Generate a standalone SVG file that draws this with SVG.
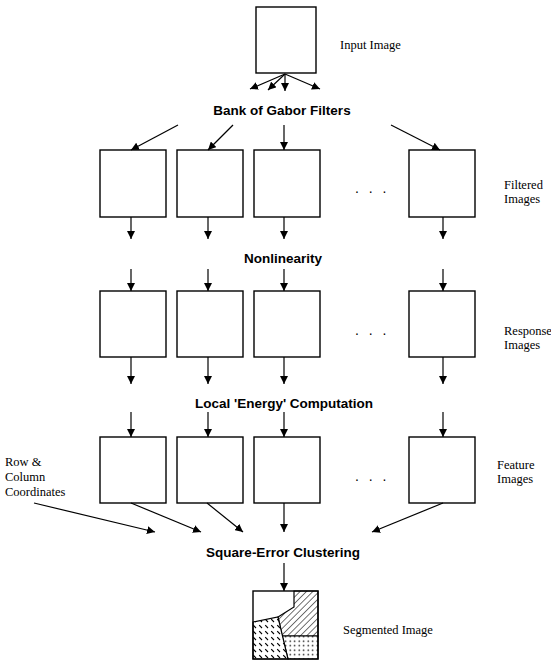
<svg xmlns="http://www.w3.org/2000/svg" width="551" height="665" viewBox="0 0 551 665">
<style>
.box{fill:#fff;stroke:#000;stroke-width:1.4}
.ar{fill:none;stroke:#000;stroke-width:1.2;marker-end:url(#ah)}
.b{font-family:"Liberation Sans",Arial,sans-serif;font-weight:bold;font-size:13.5px;fill:#000;text-anchor:middle}
.s{font-family:"Liberation Serif","Times New Roman",serif;font-size:12.5px;fill:#000}
.dots{font-family:"Liberation Sans",Arial,sans-serif;font-size:14px;fill:#000;letter-spacing:3px}
.reg{stroke:#000;stroke-width:1.2}
</style>
<defs>
<marker id="ah" viewBox="0 0 10 10" refX="10" refY="5" markerWidth="8" markerHeight="8" markerUnits="userSpaceOnUse" orient="auto">
<path d="M0,0 L10,5 L0,10 z" fill="#000"/>
</marker>
<pattern id="hatch" width="4.5" height="4.5" patternUnits="userSpaceOnUse" patternTransform="rotate(45)">
<rect width="4.5" height="4.5" fill="#fff"/>
<line x1="0" y1="0" x2="0" y2="4.5" stroke="#000" stroke-width="1.1"/>
</pattern>
<pattern id="dot" width="4.5" height="4.5" patternUnits="userSpaceOnUse">
<rect width="4.5" height="4.5" fill="#fff"/>
<circle cx="2.2" cy="2.2" r="0.75" fill="#000"/>
</pattern>
<pattern id="dash" width="6" height="6" patternUnits="userSpaceOnUse">
<rect width="6" height="6" fill="#fff"/>
<line x1="1.2" y1="1.2" x2="4" y2="4" stroke="#000" stroke-width="1.1"/>
</pattern>
</defs>

<g id="input-image">
<rect class="box" x="256" y="7" width="60" height="66"/>
<text class="s" x="340" y="49">Input Image</text>
</g>

<g id="gabor-label"><text class="b" x="282" y="115">Bank of Gabor Filters</text></g>

<g id="filtered-images">
<rect class="box" x="100" y="150" width="66" height="67"/>
<rect class="box" x="177" y="150" width="66" height="67"/>
<rect class="box" x="254" y="150" width="66" height="67"/>
<rect class="box" x="409" y="150" width="66" height="67"/>
<text class="dots" x="355" y="193">. . .</text>
<text class="s" x="504" y="189">Filtered</text>
<text class="s" x="504" y="203">Images</text>
</g>

<g id="nonlinearity-label"><text class="b" x="283" y="263">Nonlinearity</text></g>

<g id="response-images">
<rect class="box" x="100" y="291" width="66" height="66"/>
<rect class="box" x="177" y="291" width="66" height="66"/>
<rect class="box" x="254" y="291" width="66" height="66"/>
<rect class="box" x="409" y="291" width="66" height="66"/>
<text class="dots" x="355" y="335">. . .</text>
<text class="s" x="504" y="335">Response</text>
<text class="s" x="504" y="349">Images</text>
</g>

<g id="energy-label"><text class="b" x="284" y="408">Local  'Energy' Computation</text></g>

<g id="feature-images">
<rect class="box" x="100" y="437" width="66" height="66"/>
<rect class="box" x="177" y="437" width="66" height="66"/>
<rect class="box" x="254" y="437" width="66" height="66"/>
<rect class="box" x="409" y="437" width="66" height="66"/>
<text class="dots" x="355" y="481">. . .</text>
<text class="s" x="497" y="469">Feature</text>
<text class="s" x="497" y="483">Images</text>
</g>

<g id="row-column">
<text class="s" x="5" y="466">Row &amp;</text>
<text class="s" x="5" y="481">Column</text>
<text class="s" x="5" y="496">Coordinates</text>
</g>

<g id="clustering-label"><text class="b" x="283" y="557">Square-Error Clustering</text></g>

<g id="segmented-image">
<polygon points="253,591 294,591 294,607 278,617 253,622" fill="#fff"/>
<polygon class="reg" points="294,591 318,591 318,636 282,636 278,617 294,607" fill="url(#hatch)"/>
<polygon class="reg" points="282,636 318,636 318,659 288,659" fill="url(#dot)"/>
<polygon class="reg" points="253,622 278,617 288,659 253,659" fill="url(#dash)"/>
<rect x="253" y="591" width="65" height="68" fill="none" stroke="#000" stroke-width="1.4"/>
<text class="s" x="343" y="634">Segmented Image</text>
</g>

<g id="connectors">
<line class="ar" x1="285" y1="74" x2="250" y2="89"/>
<line class="ar" x1="285" y1="74" x2="268" y2="90"/>
<line class="ar" x1="285" y1="74" x2="285" y2="91"/>
<line class="ar" x1="285" y1="74" x2="320" y2="89"/>

<line class="ar" x1="178" y1="125" x2="131" y2="150"/>
<line class="ar" x1="233" y1="125" x2="208" y2="150"/>
<line class="ar" x1="284" y1="125" x2="284" y2="150"/>
<line class="ar" x1="391" y1="125" x2="440" y2="150"/>

<line class="ar" x1="131" y1="217" x2="131" y2="239"/>
<line class="ar" x1="208" y1="217" x2="208" y2="239"/>
<line class="ar" x1="284" y1="217" x2="284" y2="239"/>
<line class="ar" x1="443" y1="217" x2="443" y2="239"/>

<line class="ar" x1="131" y1="269" x2="131" y2="291"/>
<line class="ar" x1="208" y1="269" x2="208" y2="291"/>
<line class="ar" x1="284" y1="269" x2="284" y2="291"/>
<line class="ar" x1="443" y1="269" x2="443" y2="291"/>

<line class="ar" x1="131" y1="357" x2="131" y2="384"/>
<line class="ar" x1="208" y1="357" x2="208" y2="384"/>
<line class="ar" x1="284" y1="357" x2="284" y2="384"/>
<line class="ar" x1="443" y1="357" x2="443" y2="384"/>

<line class="ar" x1="131" y1="412" x2="131" y2="437"/>
<line class="ar" x1="208" y1="412" x2="208" y2="437"/>
<line class="ar" x1="284" y1="412" x2="284" y2="437"/>
<line class="ar" x1="443" y1="412" x2="443" y2="437"/>

<line class="ar" x1="34" y1="503" x2="155" y2="532"/>
<line class="ar" x1="131" y1="503" x2="201" y2="532"/>
<line class="ar" x1="207" y1="503" x2="243" y2="532"/>
<line class="ar" x1="284" y1="503" x2="284" y2="532"/>
<line class="ar" x1="443" y1="503" x2="372" y2="532"/>

<line class="ar" x1="284" y1="563" x2="284" y2="591"/>
</g>
</svg>
